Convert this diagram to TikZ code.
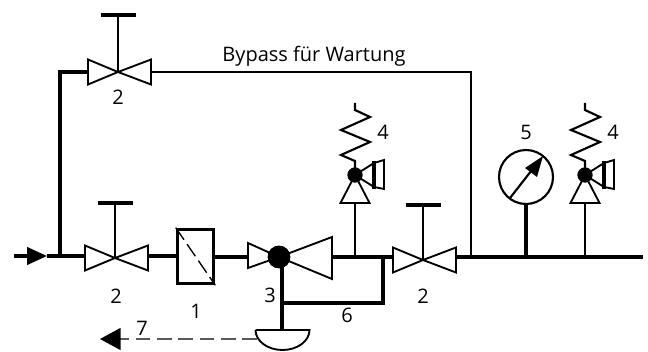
\documentclass[tikz,border=0pt]{standalone}
\usepackage{fontspec}
\setmainfont{Open Sans}
\usetikzlibrary{arrows.meta, positioning, calc}
\tikzset{%
	pipe/.style={line width=2.4pt},
	thinpipe/.style={line width=1.6pt},
	outline/.style={line width=1.4pt, line join=miter},
	dot/.style={draw, circle, fill=black, inner sep=0mm},
	lab/.style={inner sep=0mm, font=\fontsize{15}{17}\selectfont},
	filterbox/.style={draw, rectangle, line width=2.2pt, minimum width=27.5pt, minimum height=41pt, inner sep=0mm},
	gauge/.style={draw, circle, line width=1.6pt, minimum size=40.5pt, inner sep=0mm},
	gatevalve/.pic={
		\draw[outline] (0,0) -- (-30,-12.5) -- (-30,12.5) -- cycle;
		\draw[outline] (0,0) -- (33,-12.5) -- (33,12.5) -- cycle;
		\coordinate (-in) at (-30,0);
		\coordinate (-out) at (33,0);
		\coordinate (-top) at (0,0);
	},
	reliefvalve/.pic={
		% cone and stem side at the bottom, spring on top
		\node[dot, minimum size=11pt] (-ball) at (0,0) {};
		\coordinate (-base) at (0,28);
		\draw[outline] (0,0) -- (-14.5,28) -- (14.5,28) -- cycle;
		\draw[thinpipe, line join=miter] (0,-72) -- (0,-65) -- (15,-58) -- (-14,-45) -- (15,-33) -- (-14,-20) -- (0,-14) -- (0,0);
		\draw[outline] (0,0) -- (19,-12) (0,0) -- (19,12);
		\draw[line width=2.4pt] (19,-14) -- (19,14);
		\draw[outline] (19,-12) -- (29,-15) -- (29,14) -- (19,12);
	}
}

\begin{document}
\begin{tikzpicture}[x=0.75pt, y=-0.75pt]
	\useasboundingbox (0,0) rectangle (648,352);

	\coordinate (inlet) at (14,256);
	\coordinate (inarrow) at (47,256);
	\coordinate (split) at (60,256);
	\coordinate (corner) at (60,72);
	\coordinate (merge) at (471,257);
	\coordinate (bypassend) at (471,72);
	\coordinate (outlet) at (643,257);
	\coordinate (tee) at (383,257);
	\coordinate (drainjoin) at (282,303);
	\coordinate (drainout) at (100,339);

	\pic (vtop) at (118,72) {gatevalve};
	\pic (vin) at (115,258) {gatevalve};
	\pic (vout) at (423,260) {gatevalve};
	\node[filterbox] (filter) at (195.5,256.5) {};
	\node[dot, minimum size=16.5pt] (reg) at (279,257) {};
	\coordinate (regin) at (248,257);
	\coordinate (regout) at (332,257);
	\pic (safe1) at (355,175) {reliefvalve};
	\pic (safe2) at (585,175) {reliefvalve};
	\node[gauge] (pg) at (526,177) {};
	\coordinate (bowl) at (282,330);

	% regulator
	\draw[outline] (reg.center) -- (248,243) -- (248,268) -- cycle;
	\draw[outline] (reg.center) -- (332,237) -- (332,279) -- cycle;
	\node[dot, minimum size=16.5pt] at (reg) {};

	% main line
	\draw[pipe, -{Triangle[length=15pt, width=13pt]}] (inlet) -- (inarrow);
	\draw[pipe] (inarrow) -- (vin-in |- inlet);
	\draw[pipe] (vin-out |- inlet) -- (filter.west |- inlet);
	\draw[pipe] (filter.east |- regin) -- (regin);
	\draw[pipe] (regout) -- (tee) -- (393,257);
	\draw[pipe] (456,257) -- (outlet);

	% bypass
	\draw[pipe] (split) -- (corner) -- (vtop-in);
	\draw[thinpipe] (vtop-out) -- (bypassend) -- (merge);

	% handwheels
	\foreach \v/\wheel in {vtop/15, vin/203, vout/205} {
		\draw[thinpipe] (\v-top) -- (\v-top |- 0,\wheel);
		\draw[pipe] ($(\v-top |- 0,\wheel)+(-17.5,0)$) -- ($(\v-top |- 0,\wheel)+(17.5,0)$);
	}

	% filter element
	\draw[line width=1pt, dash pattern=on 11pt off 4pt] (filter.north west) -- (filter.south east);

	% instruments
	\draw[thinpipe] (safe1-base) -- (safe1-base |- tee);
	\draw[thinpipe] (safe2-base) -- (safe2-base |- tee);
	\draw[pipe] (pg.south) -- (pg.south |- tee);
	\draw[thinpipe] (510,198) -- (535,166);
	\fill (543,156) -- (525,168) -- (537,177) -- cycle;

	% drain
	\draw[pipe] (reg) ++(3,0) -- (bowl);
	\draw[pipe] (drainjoin) -- (drainjoin -| tee) -- (tee);
	\draw[outline] (255.5,330) -- (309.5,330) arc[start angle=0, end angle=180, x radius=27, y radius=20];
	\draw[line width=1.2pt, gray!70!black, dash pattern=on 11pt off 5pt, -{Triangle[length=15.5pt, width=16.5pt, black]}] (bowl |- drainout) ++(-25,0) -- (drainout);

	% labels
	\node[lab] (bypass) at (314,56) {Bypass für Wartung};
	\node[lab] (l2top) at (118,97) {2};
	\node[lab] (l2in) at (116,296) {2};
	\node[lab] (l1) at (196,311) {1};
	\node[lab] (l3) at (270,295) {3};
	\node[lab] (l6) at (347,315) {6};
	\node[lab] (l7) at (142,328) {7};
	\node[lab] (l2out) at (423,296) {2};
	\node[lab] (l41) at (383,132) {4};
	\node[lab] (l42) at (613,132) {4};
	\node[lab] (l5) at (526,132) {5};
\end{tikzpicture}
\end{document}
